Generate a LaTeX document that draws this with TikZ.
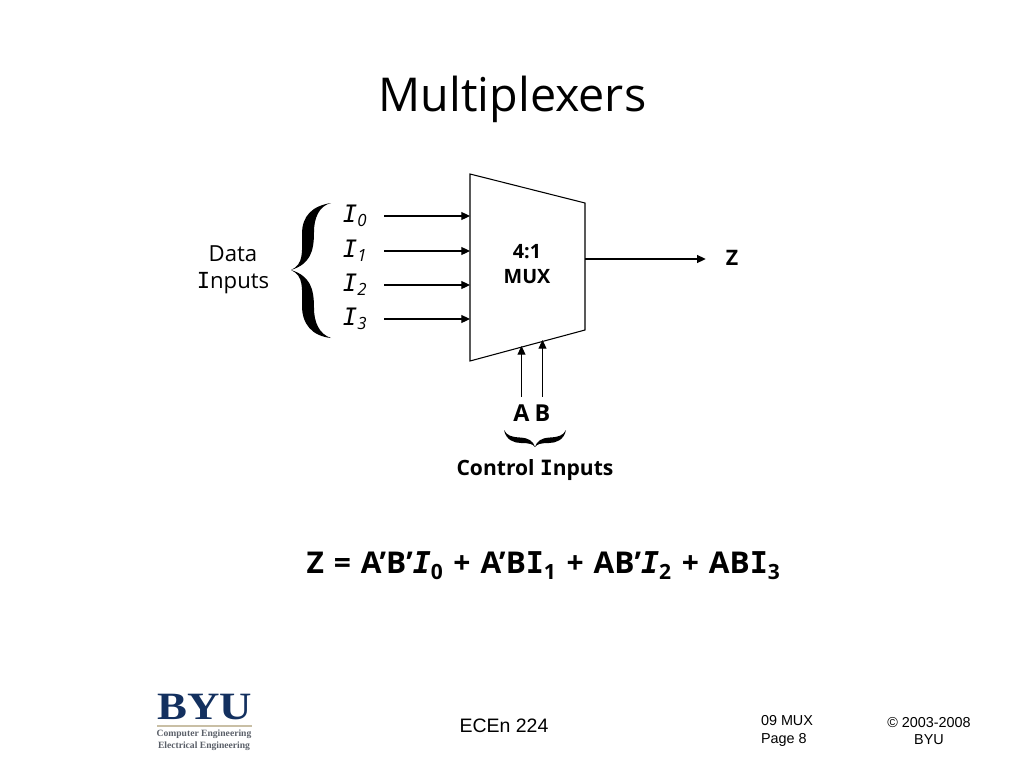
\documentclass[tikz,border=0pt]{standalone}
\usepackage{fontspec}
\setmainfont{Open Sans}
\newfontfamily\footfont{Liberation Sans}
\newfontfamily\logofont{Liberation Serif}
\newfontfamily\capifont{DejaVu Sans Mono}
\newcommand{\capi}{{\capifont I}}
\usepackage{xcolor}
\usetikzlibrary{
  positioning,
  arrows.meta,
  calc
}
\definecolor{byublue}{HTML}{13305F}
\definecolor{byutan}{HTML}{C9BFA5}
\definecolor{byugray}{HTML}{5A5F68}
\tikzset{
  sigline/.style={-{Triangle[length=6.5pt,width=6pt]}, line width=0.8pt},
  inlabel/.style={minimum width=43.5pt, inner sep=0pt, font=\fontsize{18}{20}\selectfont\itshape},
  ctrllabel/.style={minimum height=24pt, inner sep=0pt, font=\fontsize{17.5}{19}\selectfont\bfseries},
  difflabel/.style={align=center, font=\fontsize{16.6}{20.5}\selectfont},
  footlabel/.style={align=center, font=\footfont\fontsize{10.8}{13}\selectfont}
}
\begin{document}
\begin{tikzpicture}[x=0.75pt, y=-0.75pt]
  \useasboundingbox (0,0) rectangle (1024,768);

  % title
  \node (title) at (512.5,99) {\fontsize{35}{40}\selectfont Multiplexers};

  % mux body
  \draw[line width=0.8pt] (470,174) -- (585,203) -- (585,330) -- (470,361) -- cycle;
  \node[align=center, font=\fontsize{14.8}{18.5}\selectfont\bfseries] (mux) at (527,264) {4:1\\MUX};

  % data inputs
  \node[inlabel] (i0) at (355,216) {\capi\textsubscript{0}};
  \node[inlabel] (i1) at (355,251) {\capi\textsubscript{1}};
  \node[inlabel] (i2) at (355,285) {\capi\textsubscript{2}};
  \node[inlabel] (i3) at (355,319) {\capi\textsubscript{3}};
  \coordinate (m0) at (470,216);
  \coordinate (m1) at (470,251);
  \coordinate (m2) at (470,285);
  \coordinate (m3) at (470,319);
  \draw[sigline] (i0.east) -- (m0);
  \draw[sigline] (i1.east) -- (m1);
  \draw[sigline] (i2.east) -- (m2);
  \draw[sigline] (i3.east) -- (m3);
  \node[difflabel] (data) at (233,270) {Data\\\capi nputs};
  \fill (331,203) .. controls (319,206) and (314,218) .. (314,232)
    .. controls (314,252) and (310,264) .. (291,270)
    .. controls (310,276) and (314,288) .. (314,308)
    .. controls (314,322) and (319,334) .. (331,338)
    .. controls (312,336) and (302,324) .. (302,306)
    .. controls (302,288) and (304,276) .. (291,270)
    .. controls (304,264) and (302,252) .. (302,234)
    .. controls (302,216) and (312,206) .. (331,203) -- cycle;

  % output
  \coordinate (out) at (585,259);
  \node[minimum width=39pt, inner sep=0pt, font=\fontsize{16}{17}\selectfont\bfseries] (z) at (732,258) {Z};
  \draw[sigline] (out) -- (z.west |- out);

  % control inputs
  \node[ctrllabel] (a) at (521.5,413) {A};
  \node[ctrllabel] (b) at (542.5,413) {B};
  \coordinate (ca) at (521.5,346);
  \coordinate (cb) at (542.5,340);
  \draw[sigline] (a.north) -- (ca);
  \draw[sigline] (b.north) -- (cb);
  \fill (504,430) .. controls (507,436) and (512,437) .. (520,437.5)
    .. controls (529,438) and (533,441) .. (535,447)
    .. controls (537,441) and (541,438) .. (550,437.5)
    .. controls (558,437) and (563,436) .. (566,430)
    .. controls (564,440) and (556,443) .. (549,443)
    .. controls (541,443) and (537,444) .. (535,447)
    .. controls (533,444) and (529,443) .. (521,443)
    .. controls (514,443) and (506,440) .. (504,430) -- cycle;
  \node[font=\fontsize{15.8}{19}\selectfont\bfseries] (ctrl) at (535,470) {Control \capi nputs};

  % equation
  \node[font=\fontsize{22.5}{26}\selectfont\bfseries] (eqn) at (543.5,566)
    {\spaceskip=7.5pt Z = A’B’\textit{\capi}\textsubscript{0} + A’B\capi\textsubscript{1} + AB’\textit{\capi}\textsubscript{2} + AB\capi\textsubscript{3}};

  % logo
  \node[text=byublue, inner sep=0pt] (byu) at (204.5,707)
    {\logofont\bfseries\fontsize{29}{29}\selectfont\scalebox{1.16}[1]{BYU}};
  \draw[byutan, line width=0.8pt] (157,726) -- (252,726);
  \node[text=byugray, align=center, font=\logofont\bfseries\fontsize{7.2}{9}\selectfont] (dept) at (204,740)
    {Computer Engineering\\Electrical Engineering};

  % footer
  \node[font=\footfont\fontsize{14.6}{16}\selectfont] (course) at (504,726) {ECEn 224};
  \node[footlabel, align=left] (page) at (787,731) {09 MUX\\Page 8};
  \node[footlabel] (copy) at (929,731) {© 2003-2008\\BYU};
\end{tikzpicture}
\end{document}
